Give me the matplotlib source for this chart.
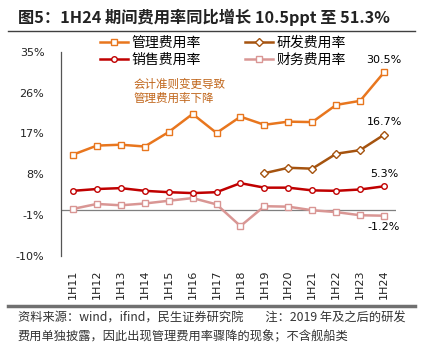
import matplotlib
matplotlib.use("Agg")
import matplotlib.pyplot as plt
from matplotlib.lines import Line2D

plt.rcParams['font.family'] = ['Noto Sans CJK SC', 'DejaVu Sans']

periods = ['1H11', '1H12', '1H13', '1H14', '1H15', '1H16', '1H17',
           '1H18', '1H19', '1H20', '1H21', '1H22', '1H23', '1H24']
mgmt = [12.3, 14.3, 14.5, 14.1, 17.3, 21.3, 17.1, 20.7, 18.9, 19.6, 19.5, 23.3, 24.2, 30.5]
rnd = [None] * 8 + [8.2, 9.4, 9.2, 12.5, 13.3, 16.7]
sales = [4.3, 4.7, 4.9, 4.3, 4.0, 3.8, 4.0, 6.0, 5.0, 5.0, 4.4, 4.3, 4.6, 5.3]
fin = [0.3, 1.4, 1.1, 1.5, 2.1, 2.7, 1.3, -3.5, 0.9, 0.8, 0.0, -0.4, -1.1, -1.2]
yticks = [-10, -1, 8, 17, 26, 35]

c_mgmt = '#E8761E'
c_rnd = '#A5530F'
c_sales = '#C00000'
c_fin = '#D99694'

fig = plt.figure(figsize=(4.35, 3.45), dpi=100)
ax = fig.add_axes([61 / 435, 1 - 255.5 / 345, 335 / 435, 203.5 / 345])

x = list(range(len(periods)))
rx = [i for i, v in zip(x, rnd) if v is not None]
ry = [v for v in rnd if v is not None]

ax.axhline(0, color='#7f7f7f', lw=0.9, zorder=1)
ax.plot(x, fin, color=c_fin, lw=1.8, marker='s', ms=4, mfc='white', mec=c_fin, mew=1.0, zorder=3)
ax.plot(x, sales, color=c_sales, lw=1.8, marker='o', ms=4, mfc='white', mec=c_sales, mew=1.0, zorder=4)
ax.plot(rx, ry, color=c_rnd, lw=1.8, marker='D', ms=4, mfc='white', mec=c_rnd, mew=1.0, zorder=4)
ax.plot(x, mgmt, color=c_mgmt, lw=1.8, marker='s', ms=4, mfc='white', mec=c_mgmt, mew=1.0, zorder=5)

ax.set_xlim(-0.5, 13.5)
ax.set_ylim(-10, 35)
ax.set_yticks(yticks)
ax.set_yticklabels([f'{v}%' for v in yticks], family=['DejaVu Sans'], fontsize=8)
ax.set_xticks(x)
ax.set_xticklabels(periods, rotation=90, family=['DejaVu Sans'], fontsize=8)
ax.tick_params(axis='both', length=0, colors='#222222')
ax.tick_params(axis='x', pad=10)
ax.tick_params(axis='y', pad=12)
for s in ['top', 'right', 'bottom']:
    ax.spines[s].set_visible(False)
ax.spines['left'].set_color('#555555')
ax.spines['left'].set_linewidth(0.9)

# end labels
ax.text(13, 32.2, '30.5%', ha='center', va='bottom', fontsize=8, family=['DejaVu Sans'])
ax.text(13, 18.4, '16.7%', ha='center', va='bottom', fontsize=8, family=['DejaVu Sans'])
ax.text(13, 6.9, '5.3%', ha='center', va='bottom', fontsize=8, family=['DejaVu Sans'])
ax.text(13, -2.6, '-1.2%', ha='center', va='top', fontsize=8, family=['DejaVu Sans'])

ax.text(2.55, 26.2, '会计准则变更导致\n管理费用率下降', color='#C0651A', fontsize=8.3,
        ha='left', va='center', linespacing=1.1)

handles = [
    Line2D([], [], color=c_mgmt, lw=1.8, marker='s', ms=4, mfc='white', mec=c_mgmt),
    Line2D([], [], color=c_sales, lw=1.8, marker='o', ms=4, mfc='white', mec=c_sales),
    Line2D([], [], color=c_rnd, lw=1.8, marker='D', ms=4, mfc='white', mec=c_rnd),
    Line2D([], [], color=c_fin, lw=1.8, marker='s', ms=4, mfc='white', mec=c_fin),
]
labels = ['管理费用率', '销售费用率', '研发费用率', '财务费用率']
fig.legend(handles, labels, ncol=2, loc='upper left', bbox_to_anchor=(100 / 435, 1 - 36 / 345),
           frameon=False, fontsize=10, handlelength=2.0, handletextpad=0.25,
           columnspacing=3.2, labelspacing=0.2, borderaxespad=0, borderpad=0)

# title and rules
fig.text(18 / 435, 1 - 17 / 345, '图5：1H24 期间费用率同比增长 10.5ppt 至 51.3%',
         fontsize=11.7, fontweight='bold', ha='left', va='center', color='#222222')
fig.add_artist(Line2D([8 / 435, 415 / 435], [1 - 31 / 345] * 2, color='#404040', lw=1.0))
fig.add_artist(Line2D([8 / 435, 415 / 435], [1 - 306 / 345] * 2, color='#707070', lw=2.5))

fig.text(18 / 435, 1 - 318 / 345, '资料来源：wind，ifind，民生证券研究院        注：2019 年及之后的研发',
         fontsize=8.8, ha='left', va='center', color='#333333')
fig.text(18 / 435, 1 - 337 / 345, '费用单独披露，因此出现管理费用率骤降的现象；不含舰船类',
         fontsize=8.8, ha='left', va='center', color='#333333')

fig.savefig('out.png', dpi=100)
